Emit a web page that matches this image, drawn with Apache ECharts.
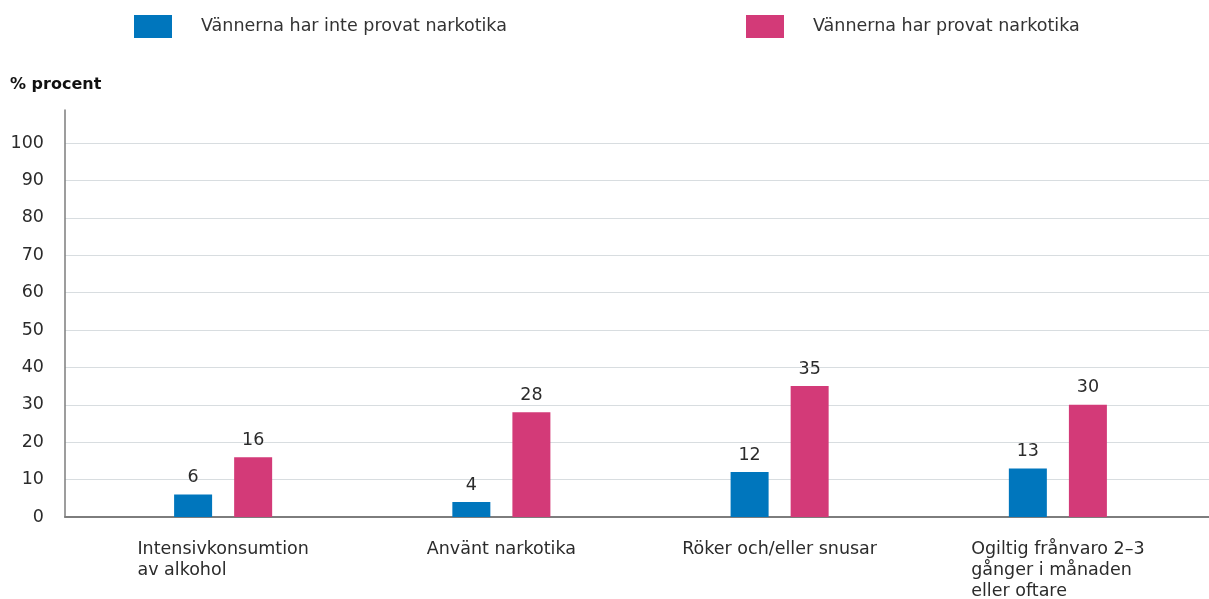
<!DOCTYPE html>
<html>
<head>
<meta charset="utf-8">
<script src="https://cdn.jsdelivr.net/npm/echarts@6/dist/echarts.min.js"></script>
<style>
  html, body { margin: 0; padding: 0; background: #fff; }
  #chart { width: 1209px; height: 599px; }
</style>
</head>
<body>
<div id="chart"></div>
<script>
// Chart data
const categories = [
  'Intensivkonsumtion\nav alkohol',
  'Använt narkotika',
  'Röker och/eller snusar',
  'Ogiltig frånvaro 2–3\ngånger i månaden\neller oftare'
];
const seriesNames = ['Vännerna har inte provat narkotika', 'Vännerna har provat narkotika'];
const notTried = [6, 4, 12, 13];
const tried = [16, 28, 35, 30];
const yTicks = { min: 0, max: 100, interval: 10 };
const yAxisTitle = '% procent';

const FONT = '"DejaVu Sans", sans-serif';
const TEXT = '#2b2b2b';
const BLUE = '#0076bd';
const PINK = '#d33a78';
const SIZE = 17.5;

const chart = echarts.init(document.getElementById('chart'), null, { renderer: 'canvas' });

const valueLabel = {
  show: true,
  position: 'top',
  distance: 8,
  color: TEXT,
  fontFamily: FONT,
  fontSize: SIZE
};

const legendText = { fontFamily: FONT, fontSize: SIZE, color: '#333', padding: [0, 0, 0, 24] };

chart.setOption({
  animation: false,
  backgroundColor: '#fff',
  title: {
    text: yAxisTitle,
    left: 5,
    top: 72,
    textStyle: { fontFamily: FONT, fontSize: 16, fontWeight: 'bold', color: '#111' }
  },
  legend: [
    {
      data: [seriesNames[0]],
      left: 129, top: 10,
      icon: 'rect', itemWidth: 38, itemHeight: 23,
      textStyle: legendText
    },
    {
      data: [seriesNames[1]],
      left: 741, top: 10,
      icon: 'rect', itemWidth: 38, itemHeight: 23,
      textStyle: legendText
    }
  ],
  grid: [
    // bars
    { left: 84, right: 12, top: 143, bottom: 82, outerBoundsMode: 'none', containLabel: false },
    // value scale, gridlines
    { left: 65, right: 0, top: 143, bottom: 82, outerBoundsMode: 'none', containLabel: false },
    // axis frame (taller left axis line)
    { left: 65, right: 0, top: 110, bottom: 82, outerBoundsMode: 'none', containLabel: false }
  ],
  xAxis: [
    {
      gridIndex: 0,
      type: 'category',
      data: categories,
      axisLine: { show: false },
      axisTick: { show: false },
      axisLabel: {
        interval: 0,
        margin: 22,
        color: TEXT,
        fontFamily: FONT,
        fontSize: SIZE,
        lineHeight: 21,
        formatter: v => v.split('\n').map(s => '{l|' + s + '}').join('\n'),
        rich: { l: { align: 'left', fontFamily: FONT, fontSize: SIZE, lineHeight: 21, color: TEXT } }
      }
    },
    {
      gridIndex: 1, type: 'value', min: 0, max: 1,
      axisLine: { show: false }, axisTick: { show: false },
      axisLabel: { show: false }, splitLine: { show: false }
    },
    {
      gridIndex: 2, type: 'value', min: 0, max: 1,
      axisLine: { show: true, onZero: false, lineStyle: { color: '#7d7d7d', width: 2 } },
      axisTick: { show: false }, axisLabel: { show: false }, splitLine: { show: false }
    }
  ],
  yAxis: [
    {
      gridIndex: 0, type: 'value', min: yTicks.min, max: yTicks.max, interval: yTicks.interval,
      show: false
    },
    {
      gridIndex: 1, type: 'value', min: yTicks.min, max: yTicks.max, interval: yTicks.interval,
      axisLine: { show: false }, axisTick: { show: false },
      axisLabel: { margin: 21, color: TEXT, fontFamily: FONT, fontSize: SIZE },
      splitLine: { show: true, lineStyle: { color: '#d8dde0', width: 1 } }
    },
    {
      gridIndex: 2, type: 'value', min: 0, max: 1,
      axisLine: { show: true, onZero: false, lineStyle: { color: '#7d7d7d', width: 1.5 } },
      axisTick: { show: false }, axisLabel: { show: false }, splitLine: { show: false }
    }
  ],
  series: [
    {
      name: seriesNames[0],
      type: 'bar',
      xAxisIndex: 0, yAxisIndex: 0,
      data: notTried,
      barWidth: 38,
      barGap: '58%',
      itemStyle: { color: BLUE },
      label: valueLabel
    },
    {
      name: seriesNames[1],
      type: 'bar',
      xAxisIndex: 0, yAxisIndex: 0,
      data: tried,
      barWidth: 38,
      barGap: '58%',
      itemStyle: { color: PINK },
      label: valueLabel
    }
  ]
});
</script>
</body>
</html>
